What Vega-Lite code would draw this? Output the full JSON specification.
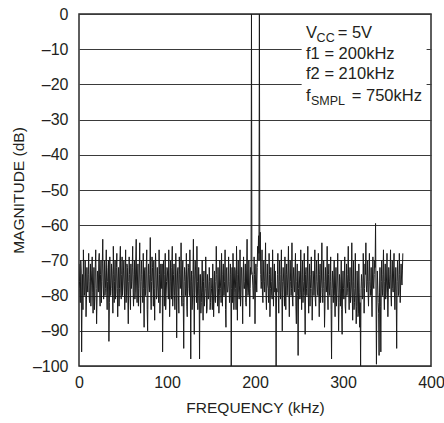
{
  "$schema": "https://vega.github.io/schema/vega-lite/v6.json",
  "autosize": "none",
  "width": 352,
  "height": 352,
  "padding": {"left": 79, "top": 14, "right": 13, "bottom": 57},
  "background": "white",
  "config": {
    "font": "Liberation Sans",
    "view": {"stroke": "#2a2a2a", "strokeWidth": 1.5},
    "axis": {
      "labelFont": "Liberation Sans",
      "titleFont": "Liberation Sans",
      "labelFontSize": 16,
      "titleFontSize": 15.5,
      "titleFontWeight": "normal",
      "labelColor": "#231f20",
      "titleColor": "#231f20",
      "ticks": false,
      "domain": false,
      "labelOverlap": false
    },
    "axisX": {"tickCount": 4, "grid": false, "labelPadding": 8, "titlePadding": 10, "labelFlush": false},
    "axisY": {"tickCount": 10, "grid": true, "gridColor": "#3a3a3a", "gridWidth": 1, "gridOpacity": 1, "labelPadding": 11, "titlePadding": 6,
      "labelExpr": "datum.value < 0 ? '–' + abs(datum.value) : '' + datum.value"}
  },
  "data": {"values": [
    {"f":0,"m":-71},{"f":1,"m":-78},{"f":2,"m":-70},{"f":3,"m":-96},{"f":4,"m":-74},{"f":5,"m":-67},{"f":6,"m":-80},{"f":7,"m":-70},{"f":8,"m":-86},{"f":9,"m":-72},
    {"f":10,"m":-79},{"f":11,"m":-68},{"f":12,"m":-82},{"f":13,"m":-71},{"f":14,"m":-77},{"f":15,"m":-69},{"f":16,"m":-85},{"f":17,"m":-72},{"f":18,"m":-80},{"f":19,"m":-67},
    {"f":20,"m":-88},{"f":21,"m":-73},{"f":22,"m":-79},{"f":23,"m":-68},{"f":24,"m":-83},{"f":25,"m":-70},{"f":26,"m":-76},{"f":27,"m":-64},{"f":28,"m":-81},{"f":29,"m":-70},
    {"f":30,"m":-78},{"f":31,"m":-67},{"f":32,"m":-84},{"f":33,"m":-72},{"f":34,"m":-93},{"f":35,"m":-69},{"f":36,"m":-80},{"f":37,"m":-71},{"f":38,"m":-77},{"f":39,"m":-66},
    {"f":40,"m":-82},{"f":41,"m":-70},{"f":42,"m":-79},{"f":43,"m":-68},{"f":44,"m":-86},{"f":45,"m":-72},{"f":46,"m":-78},{"f":47,"m":-66},{"f":48,"m":-81},{"f":49,"m":-69},
    {"f":50,"m":-77},{"f":51,"m":-70},{"f":52,"m":-84},{"f":53,"m":-67},{"f":54,"m":-79},{"f":55,"m":-72},{"f":56,"m":-88},{"f":57,"m":-69},{"f":58,"m":-80},{"f":59,"m":-71},
    {"f":60,"m":-76},{"f":61,"m":-66},{"f":62,"m":-83},{"f":63,"m":-70},{"f":64,"m":-79},{"f":65,"m":-64},{"f":66,"m":-82},{"f":67,"m":-71},{"f":68,"m":-78},{"f":69,"m":-65},
    {"f":70,"m":-85},{"f":71,"m":-70},{"f":72,"m":-80},{"f":73,"m":-68},{"f":74,"m":-89},{"f":75,"m":-72},{"f":76,"m":-78},{"f":77,"m":-67},{"f":78,"m":-90},{"f":79,"m":-71},
    {"f":80,"m":-79},{"f":81,"m":-63.5},{"f":82,"m":-84},{"f":83,"m":-69},{"f":84,"m":-77},{"f":85,"m":-70},{"f":86,"m":-87},{"f":87,"m":-68},{"f":88,"m":-81},{"f":89,"m":-72},
    {"f":90,"m":-79},{"f":91,"m":-67},{"f":92,"m":-85},{"f":93,"m":-71},{"f":94,"m":-78},{"f":95,"m":-96},{"f":96,"m":-70},{"f":97,"m":-83},{"f":98,"m":-68},{"f":99,"m":-80},
    {"f":100,"m":-72},{"f":101,"m":-77},{"f":102,"m":-67},{"f":103,"m":-86},{"f":104,"m":-70},{"f":105,"m":-81},{"f":106,"m":-66},{"f":107,"m":-79},{"f":108,"m":-71},{"f":109,"m":-84},
    {"f":110,"m":-68},{"f":111,"m":-92},{"f":112,"m":-73},{"f":113,"m":-80},{"f":114,"m":-69},{"f":115,"m":-78},{"f":116,"m":-65},{"f":117,"m":-83},{"f":118,"m":-70},{"f":119,"m":-95},
    {"f":120,"m":-72},{"f":121,"m":-80},{"f":122,"m":-68},{"f":123,"m":-86},{"f":124,"m":-71},{"f":125,"m":-78},{"f":126,"m":-67},{"f":127,"m":-98},{"f":128,"m":-73},{"f":129,"m":-81},
    {"f":130,"m":-64},{"f":131,"m":-91},{"f":132,"m":-70},{"f":133,"m":-79},{"f":134,"m":-66},{"f":135,"m":-84},{"f":136,"m":-72},{"f":137,"m":-98},{"f":138,"m":-74},{"f":139,"m":-82},
    {"f":140,"m":-70},{"f":141,"m":-87},{"f":142,"m":-73},{"f":143,"m":-80},{"f":144,"m":-69},{"f":145,"m":-85},{"f":146,"m":-74},{"f":147,"m":-81},{"f":148,"m":-72},{"f":149,"m":-84},
    {"f":150,"m":-75},{"f":151,"m":-80},{"f":152,"m":-71},{"f":153,"m":-86},{"f":154,"m":-73},{"f":155,"m":-82},{"f":156,"m":-66},{"f":157,"m":-79},{"f":158,"m":-72},{"f":159,"m":-85},
    {"f":160,"m":-70},{"f":161,"m":-78},{"f":162,"m":-68},{"f":163,"m":-83},{"f":164,"m":-71},{"f":165,"m":-80},{"f":166,"m":-67},{"f":167,"m":-89},{"f":168,"m":-72},{"f":169,"m":-79},
    {"f":170,"m":-69},{"f":171,"m":-82},{"f":172,"m":-71},{"f":173,"m":-100},{"f":174,"m":-72},{"f":175,"m":-68},{"f":176,"m":-84},{"f":177,"m":-72},{"f":178,"m":-78},{"f":179,"m":-66},
    {"f":180,"m":-87},{"f":181,"m":-70},{"f":182,"m":-81},{"f":183,"m":-67},{"f":184,"m":-79},{"f":185,"m":-72},{"f":186,"m":-88},{"f":187,"m":-69},{"f":188,"m":-78},{"f":189,"m":-71},
    {"f":190,"m":-83},{"f":191,"m":-64},{"f":192,"m":-80},{"f":193,"m":-70},{"f":194,"m":-86},{"f":195,"m":-72},{"f":196,"m":0},{"f":197,"m":-74},{"f":198,"m":-81},{"f":199,"m":-69},
    {"f":200,"m":-88},{"f":201,"m":-71},{"f":202,"m":-79},{"f":203,"m":-66},{"f":204,"m":-63},{"f":205,"m":0},{"f":206,"m":-62},{"f":207,"m":-78},{"f":208,"m":-67},{"f":209,"m":-82},
    {"f":210,"m":-70},{"f":211,"m":-79},{"f":212,"m":-65},{"f":213,"m":-84},{"f":214,"m":-71},{"f":215,"m":-78},{"f":216,"m":-68},{"f":217,"m":-86},{"f":218,"m":-72},{"f":219,"m":-80},
    {"f":220,"m":-67},{"f":221,"m":-83},{"f":222,"m":-71},{"f":223,"m":-73},{"f":224,"m":-100},{"f":225,"m":-79},{"f":226,"m":-68},{"f":227,"m":-85},{"f":228,"m":-70},{"f":229,"m":-81},
    {"f":230,"m":-67},{"f":231,"m":-90},{"f":232,"m":-72},{"f":233,"m":-79},{"f":234,"m":-69},{"f":235,"m":-84},{"f":236,"m":-71},{"f":237,"m":-77},{"f":238,"m":-66},{"f":239,"m":-86},
    {"f":240,"m":-70},{"f":241,"m":-80},{"f":242,"m":-65},{"f":243,"m":-83},{"f":244,"m":-72},{"f":245,"m":-79},{"f":246,"m":-68},{"f":247,"m":-88},{"f":248,"m":-71},{"f":249,"m":-97},
    {"f":250,"m":-73},{"f":251,"m":-81},{"f":252,"m":-67},{"f":253,"m":-84},{"f":254,"m":-70},{"f":255,"m":-79},{"f":256,"m":-68},{"f":257,"m":-91},{"f":258,"m":-72},{"f":259,"m":-80},
    {"f":260,"m":-66},{"f":261,"m":-85},{"f":262,"m":-71},{"f":263,"m":-78},{"f":264,"m":-69},{"f":265,"m":-87},{"f":266,"m":-73},{"f":267,"m":-80},{"f":268,"m":-67},{"f":269,"m":-83},
    {"f":270,"m":-70},{"f":271,"m":-79},{"f":272,"m":-68},{"f":273,"m":-86},{"f":274,"m":-71},{"f":275,"m":-78},{"f":276,"m":-65},{"f":277,"m":-82},{"f":278,"m":-70},{"f":279,"m":-89},
    {"f":280,"m":-72},{"f":281,"m":-79},{"f":282,"m":-66},{"f":283,"m":-84},{"f":284,"m":-71},{"f":285,"m":-80},{"f":286,"m":-69},{"f":287,"m":-98},{"f":288,"m":-73},{"f":289,"m":-82},
    {"f":290,"m":-70},{"f":291,"m":-86},{"f":292,"m":-72},{"f":293,"m":-79},{"f":294,"m":-68},{"f":295,"m":-90},{"f":296,"m":-74},{"f":297,"m":-83},{"f":298,"m":-70},{"f":299,"m":-91},
    {"f":300,"m":-73},{"f":301,"m":-81},{"f":302,"m":-69},{"f":303,"m":-85},{"f":304,"m":-71},{"f":305,"m":-78},{"f":306,"m":-66},{"f":307,"m":-84},{"f":308,"m":-72},{"f":309,"m":-80},
    {"f":310,"m":-65},{"f":311,"m":-87},{"f":312,"m":-70},{"f":313,"m":-82},{"f":314,"m":-68},{"f":315,"m":-88},{"f":316,"m":-73},{"f":317,"m":-86},{"f":318,"m":-71},{"f":319,"m":-89},
    {"f":320,"m":-100},{"f":321,"m":-74},{"f":322,"m":-81},{"f":323,"m":-68},{"f":324,"m":-85},{"f":325,"m":-71},{"f":326,"m":-65},{"f":327,"m":-79},{"f":328,"m":-70},{"f":329,"m":-83},
    {"f":330,"m":-68},{"f":331,"m":-80},{"f":332,"m":-72},{"f":333,"m":-86},{"f":334,"m":-69},{"f":335,"m":-78},{"f":336,"m":-70},{"f":337,"m":-59.5},{"f":338,"m":-99.5},{"f":339,"m":-73},
    {"f":340,"m":-82},{"f":341,"m":-97},{"f":342,"m":-72},{"f":343,"m":-96},{"f":344,"m":-70},{"f":345,"m":-80},{"f":346,"m":-67},{"f":347,"m":-84},{"f":348,"m":-71},{"f":349,"m":-79},
    {"f":350,"m":-68},{"f":351,"m":-86},{"f":352,"m":-72},{"f":353,"m":-78},{"f":354,"m":-67},{"f":355,"m":-83},{"f":356,"m":-70},{"f":357,"m":-79},{"f":358,"m":-68},{"f":359,"m":-84},
    {"f":360,"m":-72},{"f":361,"m":-95},{"f":362,"m":-70},{"f":363,"m":-80},{"f":364,"m":-68},{"f":365,"m":-82},{"f":366,"m":-71},{"f":367,"m":-77},{"f":368,"m":-68},
    {"f":0.5,"m":-76},{"f":1.5,"m":-82},{"f":2.5,"m":-73},{"f":3.5,"m":-80},{"f":4.5,"m":-84},{"f":5.5,"m":-74},{"f":6.5,"m":-79},{"f":7.5,"m":-75},{"f":8.5,"m":-81},{"f":9.5,"m":-77},
    {"f":10.5,"m":-74},{"f":11.5,"m":-80},{"f":12.5,"m":-76},{"f":13.5,"m":-83},{"f":14.5,"m":-73},{"f":15.5,"m":-79},{"f":16.5,"m":-77},{"f":17.5,"m":-84},{"f":18.5,"m":-72},{"f":19.5,"m":-78},
    {"f":20.5,"m":-81},{"f":21.5,"m":-75},{"f":22.5,"m":-70},{"f":23.5,"m":-79},{"f":24.5,"m":-74},{"f":25.5,"m":-82},{"f":26.5,"m":-71},{"f":27.5,"m":-77},{"f":28.5,"m":-75},{"f":29.5,"m":-80},
    {"f":30.5,"m":-73},{"f":31.5,"m":-79},{"f":32.5,"m":-76},{"f":33.5,"m":-70},{"f":34.5,"m":-82},{"f":35.5,"m":-75},{"f":36.5,"m":-78},{"f":37.5,"m":-73},{"f":38.5,"m":-85},{"f":39.5,"m":-74},
    {"f":40.5,"m":-76},{"f":41.5,"m":-81},{"f":42.5,"m":-72},{"f":43.5,"m":-78},{"f":44.5,"m":-75},{"f":45.5,"m":-83},{"f":46.5,"m":-70},{"f":47.5,"m":-79},{"f":48.5,"m":-74},{"f":49.5,"m":-80},
    {"f":50.5,"m":-73},{"f":51.5,"m":-77},{"f":52.5,"m":-75},{"f":53.5,"m":-82},{"f":54.5,"m":-71},{"f":55.5,"m":-80},{"f":56.5,"m":-76},{"f":57.5,"m":-74},{"f":58.5,"m":-84},{"f":59.5,"m":-78},
    {"f":60.5,"m":-72},{"f":61.5,"m":-79},{"f":62.5,"m":-74},{"f":63.5,"m":-81},{"f":64.5,"m":-70},{"f":65.5,"m":-77},{"f":66.5,"m":-75},{"f":67.5,"m":-83},{"f":68.5,"m":-73},{"f":69.5,"m":-79},
    {"f":70.5,"m":-76},{"f":71.5,"m":-74},{"f":72.5,"m":-82},{"f":73.5,"m":-78},{"f":74.5,"m":-73},{"f":75.5,"m":-80},{"f":76.5,"m":-71},{"f":77.5,"m":-84},{"f":78.5,"m":-75},{"f":79.5,"m":-77},
    {"f":80.5,"m":-74},{"f":81.5,"m":-79},{"f":82.5,"m":-76},{"f":83.5,"m":-72},{"f":84.5,"m":-83},{"f":85.5,"m":-78},{"f":86.5,"m":-75},{"f":87.5,"m":-73},{"f":88.5,"m":-80},{"f":89.5,"m":-77},
    {"f":90.5,"m":-82},{"f":91.5,"m":-74},{"f":92.5,"m":-79},{"f":93.5,"m":-75},{"f":94.5,"m":-71},{"f":95.5,"m":-80},{"f":96.5,"m":-77},{"f":97.5,"m":-74},{"f":98.5,"m":-84},{"f":99.5,"m":-76},
    {"f":100.5,"m":-73},{"f":101.5,"m":-81},{"f":102.5,"m":-75},{"f":103.5,"m":-79},{"f":104.5,"m":-76},{"f":105.5,"m":-72},{"f":106.5,"m":-83},{"f":107.5,"m":-74},{"f":108.5,"m":-80},{"f":109.5,"m":-77},
    {"f":110.5,"m":-75},{"f":111.5,"m":-79},{"f":112.5,"m":-72},{"f":113.5,"m":-85},{"f":114.5,"m":-74},{"f":115.5,"m":-77},{"f":116.5,"m":-80},{"f":117.5,"m":-73},{"f":118.5,"m":-82},{"f":119.5,"m":-76},
    {"f":120.5,"m":-74},{"f":121.5,"m":-78},{"f":122.5,"m":-83},{"f":123.5,"m":-75},{"f":124.5,"m":-72},{"f":125.5,"m":-80},{"f":126.5,"m":-77},{"f":127.5,"m":-76},{"f":128.5,"m":-84},{"f":129.5,"m":-74},
    {"f":130.5,"m":-79},{"f":131.5,"m":-75},{"f":132.5,"m":-73},{"f":133.5,"m":-82},{"f":134.5,"m":-76},{"f":135.5,"m":-80},{"f":136.5,"m":-78},{"f":137.5,"m":-74},{"f":138.5,"m":-85},{"f":139.5,"m":-77},
    {"f":140.5,"m":-79},{"f":141.5,"m":-76},{"f":142.5,"m":-83},{"f":143.5,"m":-78},{"f":144.5,"m":-75},{"f":145.5,"m":-84},{"f":146.5,"m":-77},{"f":147.5,"m":-80},{"f":148.5,"m":-76},{"f":149.5,"m":-82},
    {"f":150.5,"m":-78},{"f":151.5,"m":-84},{"f":152.5,"m":-77},{"f":153.5,"m":-79},{"f":154.5,"m":-81},{"f":155.5,"m":-76},{"f":156.5,"m":-74},{"f":157.5,"m":-83},{"f":158.5,"m":-78},{"f":159.5,"m":-80},
    {"f":160.5,"m":-75},{"f":161.5,"m":-82},{"f":162.5,"m":-77},{"f":163.5,"m":-74},{"f":164.5,"m":-80},{"f":165.5,"m":-76},{"f":166.5,"m":-84},{"f":167.5,"m":-73},{"f":168.5,"m":-79},{"f":169.5,"m":-77},
    {"f":170.5,"m":-76},{"f":171.5,"m":-80},{"f":172.5,"m":-74},{"f":173.5,"m":-78},{"f":174.5,"m":-82},{"f":175.5,"m":-75},{"f":176.5,"m":-79},{"f":177.5,"m":-73},{"f":178.5,"m":-84},{"f":179.5,"m":-76},
    {"f":180.5,"m":-74},{"f":181.5,"m":-79},{"f":182.5,"m":-77},{"f":183.5,"m":-83},{"f":184.5,"m":-72},{"f":185.5,"m":-80},{"f":186.5,"m":-75},{"f":187.5,"m":-78},{"f":188.5,"m":-76},{"f":189.5,"m":-82},
    {"f":190.5,"m":-73},{"f":191.5,"m":-77},{"f":192.5,"m":-79},{"f":193.5,"m":-75},{"f":194.5,"m":-78},{"f":195.5,"m":-74},{"f":196.5,"m":-73},{"f":197.5,"m":-77},{"f":198.5,"m":-80},{"f":199.5,"m":-74},
    {"f":200.5,"m":-77},{"f":201.5,"m":-75},{"f":202.5,"m":-72},{"f":203.5,"m":-70},{"f":204.5,"m":-68},{"f":205.5,"m":-70},{"f":206.5,"m":-74},{"f":207.5,"m":-76},{"f":208.5,"m":-80},{"f":209.5,"m":-75},
    {"f":210.5,"m":-76},{"f":211.5,"m":-73},{"f":212.5,"m":-80},{"f":213.5,"m":-75},{"f":214.5,"m":-77},{"f":215.5,"m":-82},{"f":216.5,"m":-74},{"f":217.5,"m":-78},{"f":218.5,"m":-76},{"f":219.5,"m":-81},
    {"f":220.5,"m":-75},{"f":221.5,"m":-77},{"f":222.5,"m":-79},{"f":223.5,"m":-80},{"f":224.5,"m":-78},{"f":225.5,"m":-74},{"f":226.5,"m":-80},{"f":227.5,"m":-76},{"f":228.5,"m":-79},{"f":229.5,"m":-74},
    {"f":230.5,"m":-79},{"f":231.5,"m":-76},{"f":232.5,"m":-75},{"f":233.5,"m":-83},{"f":234.5,"m":-77},{"f":235.5,"m":-74},{"f":236.5,"m":-80},{"f":237.5,"m":-73},{"f":238.5,"m":-79},{"f":239.5,"m":-75},
    {"f":240.5,"m":-76},{"f":241.5,"m":-78},{"f":242.5,"m":-81},{"f":243.5,"m":-75},{"f":244.5,"m":-77},{"f":245.5,"m":-73},{"f":246.5,"m":-83},{"f":247.5,"m":-76},{"f":248.5,"m":-80},{"f":249.5,"m":-78},
    {"f":250.5,"m":-75},{"f":251.5,"m":-79},{"f":252.5,"m":-77},{"f":253.5,"m":-74},{"f":254.5,"m":-82},{"f":255.5,"m":-76},{"f":256.5,"m":-80},{"f":257.5,"m":-74},{"f":258.5,"m":-78},{"f":259.5,"m":-75},
    {"f":260.5,"m":-79},{"f":261.5,"m":-76},{"f":262.5,"m":-83},{"f":263.5,"m":-74},{"f":264.5,"m":-78},{"f":265.5,"m":-80},{"f":266.5,"m":-75},{"f":267.5,"m":-77},{"f":268.5,"m":-81},{"f":269.5,"m":-74},
    {"f":270.5,"m":-76},{"f":271.5,"m":-80},{"f":272.5,"m":-77},{"f":273.5,"m":-74},{"f":274.5,"m":-82},{"f":275.5,"m":-75},{"f":276.5,"m":-79},{"f":277.5,"m":-78},{"f":278.5,"m":-76},{"f":279.5,"m":-83},
    {"f":280.5,"m":-75},{"f":281.5,"m":-77},{"f":282.5,"m":-80},{"f":283.5,"m":-74},{"f":284.5,"m":-79},{"f":285.5,"m":-76},{"f":286.5,"m":-84},{"f":287.5,"m":-78},{"f":288.5,"m":-77},{"f":289.5,"m":-75},
    {"f":290.5,"m":-80},{"f":291.5,"m":-77},{"f":292.5,"m":-83},{"f":293.5,"m":-75},{"f":294.5,"m":-79},{"f":295.5,"m":-82},{"f":296.5,"m":-76},{"f":297.5,"m":-78},{"f":298.5,"m":-84},{"f":299.5,"m":-77},
    {"f":300.5,"m":-78},{"f":301.5,"m":-75},{"f":302.5,"m":-83},{"f":303.5,"m":-77},{"f":304.5,"m":-80},{"f":305.5,"m":-74},{"f":306.5,"m":-79},{"f":307.5,"m":-76},{"f":308.5,"m":-82},{"f":309.5,"m":-77},
    {"f":310.5,"m":-79},{"f":311.5,"m":-76},{"f":312.5,"m":-84},{"f":313.5,"m":-78},{"f":314.5,"m":-80},{"f":315.5,"m":-83},{"f":316.5,"m":-77},{"f":317.5,"m":-85},{"f":318.5,"m":-79},{"f":319.5,"m":-82},
    {"f":320.5,"m":-78},{"f":321.5,"m":-76},{"f":322.5,"m":-80},{"f":323.5,"m":-75},{"f":324.5,"m":-78},{"f":325.5,"m":-74},{"f":326.5,"m":-77},{"f":327.5,"m":-76},{"f":328.5,"m":-79},{"f":329.5,"m":-75},
    {"f":330.5,"m":-76},{"f":331.5,"m":-78},{"f":332.5,"m":-80},{"f":333.5,"m":-75},{"f":334.5,"m":-77},{"f":335.5,"m":-74},{"f":336.5,"m":-72},{"f":338.5,"m":-80},{"f":339.5,"m":-77},
    {"f":340.5,"m":-85},{"f":341.5,"m":-79},{"f":342.5,"m":-83},{"f":343.5,"m":-76},{"f":344.5,"m":-78},{"f":345.5,"m":-74},{"f":346.5,"m":-79},{"f":347.5,"m":-76},{"f":348.5,"m":-81},{"f":349.5,"m":-75},
    {"f":350.5,"m":-77},{"f":351.5,"m":-79},{"f":352.5,"m":-76},{"f":353.5,"m":-74},{"f":354.5,"m":-80},{"f":355.5,"m":-75},{"f":356.5,"m":-78},{"f":357.5,"m":-73},{"f":358.5,"m":-79},{"f":359.5,"m":-77},
    {"f":360.5,"m":-80},{"f":361.5,"m":-76},{"f":362.5,"m":-75},{"f":363.5,"m":-79},{"f":364.5,"m":-74},{"f":365.5,"m":-77},{"f":366.5,"m":-75},{"f":367.5,"m":-73}
  ]},
  "layer": [
    {
      "data": {"values": [{}]},
      "mark": {"type": "rect", "color": "white"},
      "encoding": {
        "x": {"datum": 253, "type": "quantitative"},
        "x2": {"datum": 395},
        "y": {"datum": -0.4, "type": "quantitative"},
        "y2": {"datum": -26.5}
      }
    },
    {
      "mark": {"type": "line", "color": "#1a1a1a", "strokeWidth": 1, "clip": true},
      "encoding": {
        "x": {
          "field": "f", "type": "quantitative",
          "scale": {"domain": [0, 400], "nice": false},
          "axis": {"title": "FREQUENCY (kHz)"}
        },
        "y": {
          "field": "m", "type": "quantitative",
          "scale": {"domain": [-100, 0], "nice": false},
          "axis": {"title": "MAGNITUDE (dB)"}
        }
      }
    },
    {
      "data": {"values": [{}]},
      "mark": {"type": "text", "align": "left", "baseline": "alphabetic", "fontSize": 16.5, "color": "#231f20"},
      "encoding": {"x": {"datum": 258, "type": "quantitative"}, "y": {"datum": -6.7, "type": "quantitative"}, "text": {"value": "V"}}
    },
    {
      "data": {"values": [{}]},
      "mark": {"type": "text", "align": "left", "baseline": "alphabetic", "fontSize": 12.5, "dy": 4, "color": "#231f20"},
      "encoding": {"x": {"datum": 270, "type": "quantitative"}, "y": {"datum": -6.7, "type": "quantitative"}, "text": {"value": "CC"}}
    },
    {
      "data": {"values": [{}]},
      "mark": {"type": "text", "align": "left", "baseline": "alphabetic", "fontSize": 16.5, "color": "#231f20"},
      "encoding": {"x": {"datum": 294, "type": "quantitative"}, "y": {"datum": -6.7, "type": "quantitative"}, "text": {"value": "= 5V"}}
    },
    {
      "data": {"values": [{}]},
      "mark": {"type": "text", "align": "left", "baseline": "alphabetic", "fontSize": 16.5, "color": "#231f20"},
      "encoding": {"x": {"datum": 258, "type": "quantitative"}, "y": {"datum": -12.65, "type": "quantitative"}, "text": {"value": "f1 = 200kHz"}}
    },
    {
      "data": {"values": [{}]},
      "mark": {"type": "text", "align": "left", "baseline": "alphabetic", "fontSize": 16.5, "color": "#231f20"},
      "encoding": {"x": {"datum": 258, "type": "quantitative"}, "y": {"datum": -18.6, "type": "quantitative"}, "text": {"value": "f2 = 210kHz"}}
    },
    {
      "data": {"values": [{}]},
      "mark": {"type": "text", "align": "left", "baseline": "alphabetic", "fontSize": 16.5, "color": "#231f20"},
      "encoding": {"x": {"datum": 258, "type": "quantitative"}, "y": {"datum": -24.6, "type": "quantitative"}, "text": {"value": "f"}}
    },
    {
      "data": {"values": [{}]},
      "mark": {"type": "text", "align": "left", "baseline": "alphabetic", "fontSize": 12.5, "dy": 4, "color": "#231f20"},
      "encoding": {"x": {"datum": 263.5, "type": "quantitative"}, "y": {"datum": -24.6, "type": "quantitative"}, "text": {"value": "SMPL"}}
    },
    {
      "data": {"values": [{}]},
      "mark": {"type": "text", "align": "left", "baseline": "alphabetic", "fontSize": 16.5, "color": "#231f20"},
      "encoding": {"x": {"datum": 310, "type": "quantitative"}, "y": {"datum": -24.6, "type": "quantitative"}, "text": {"value": "= 750kHz"}}
    }
  ]
}
